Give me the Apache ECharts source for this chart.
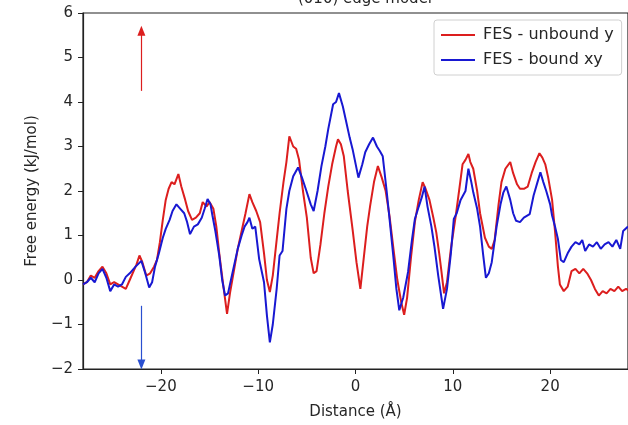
<!DOCTYPE html>
<html>
<head>
<meta charset="utf-8">
<script src="https://cdn.jsdelivr.net/npm/echarts@6/dist/echarts.min.js"></script>
<style>html,body{margin:0;padding:0;background:#fff}#c{width:628px;height:425px}</style>
</head>
<body>
<div id="c"></div>
<script>
// ---- data ----
const titleText = "(010) edge model";
const xName = "Distance (Å)";
const yName = "Free energy (kJ/mol)";
const seriesNames = ["FES - unbound y", "FES - bound xy"];
const xTicks = [-20, -10, 0, 10, 20];

const distanceRed = [-28,-27.6,-27.2,-26.8,-26.4,-26.0,-25.6,-25.2,-24.8,-24.4,-24.0,-23.6,-23.2,-22.8,-22.5,-22.2,-21.9,-21.5,-21.1,-20.7,-20.4,-20.1,-19.8,-19.5,-19.2,-18.9,-18.6,-18.2,-17.9,-17.5,-17.2,-16.8,-16.4,-16.0,-15.7,-15.3,-15.0,-14.6,-14.3,-14.0,-13.6,-13.2,-12.9,-12.5,-12.1,-11.7,-11.3,-10.9,-10.6,-10.2,-9.8,-9.4,-9.1,-8.8,-8.5,-8.1,-7.8,-7.4,-7.1,-6.8,-6.4,-6.1,-5.8,-5.4,-5.0,-4.6,-4.3,-4.0,-3.6,-3.2,-2.8,-2.4,-2.0,-1.8,-1.5,-1.2,-0.8,-0.3,0.1,0.5,0.9,1.2,1.5,1.9,2.3,2.7,3.1,3.5,3.9,4.3,4.7,5.0,5.3,5.7,6.1,6.5,6.9,7.2,7.6,8.0,8.3,8.6,8.8,9.1,9.4,9.8,10.3,10.7,11.0,11.3,11.6,11.8,12.1,12.5,12.8,13.3,13.7,14.0,14.3,14.7,15.0,15.4,15.9,16.2,16.6,16.9,17.3,17.7,18.1,18.5,18.9,19.2,19.5,19.8,20.2,20.5,20.8,21.0,21.4,21.8,22.2,22.6,23.0,23.4,23.8,24.2,24.6,25.0,25.4,25.8,26.2,26.6,27.0,27.4,27.8,28.2];
const fesUnbound = [-0.1,-0.05,0.1,0.05,0.2,0.3,0.15,-0.1,-0.05,-0.1,-0.15,-0.2,0.0,0.2,0.35,0.55,0.4,0.1,0.15,0.3,0.45,0.85,1.35,1.8,2.05,2.2,2.15,2.38,2.1,1.8,1.55,1.35,1.4,1.5,1.75,1.65,1.75,1.6,1.2,0.6,-0.1,-0.76,-0.3,0.2,0.7,1.1,1.5,1.93,1.75,1.55,1.3,0.6,0.0,-0.27,0.1,0.9,1.5,2.2,2.65,3.23,3.0,2.95,2.7,2.0,1.4,0.5,0.15,0.2,0.8,1.5,2.1,2.6,3.0,3.16,3.05,2.78,2.0,1.14,0.4,-0.2,0.6,1.2,1.66,2.2,2.56,2.3,2.0,1.43,0.7,0.0,-0.5,-0.78,-0.4,0.5,1.3,1.8,2.2,2.05,1.8,1.4,1.07,0.6,0.25,-0.3,-0.05,0.7,1.44,2.1,2.6,2.7,2.83,2.65,2.5,2.0,1.5,0.95,0.75,0.7,0.9,1.7,2.2,2.5,2.65,2.4,2.15,2.05,2.05,2.1,2.4,2.65,2.85,2.75,2.6,2.3,1.8,1.1,0.3,-0.1,-0.25,-0.15,0.2,0.25,0.15,0.25,0.15,0.0,-0.2,-0.35,-0.25,-0.3,-0.2,-0.25,-0.15,-0.25,-0.2,-0.25];

const distanceBlue = [-28,-27.6,-27.2,-26.8,-26.4,-26.0,-25.6,-25.2,-24.8,-24.4,-24.0,-23.6,-23.2,-22.6,-22.0,-21.6,-21.2,-20.9,-20.6,-20.2,-19.8,-19.5,-19.1,-18.8,-18.4,-18.0,-17.6,-17.3,-17.0,-16.6,-16.2,-15.8,-15.5,-15.2,-14.9,-14.7,-14.4,-14.0,-13.7,-13.4,-13.1,-12.7,-12.1,-11.7,-11.4,-11.1,-10.9,-10.6,-10.3,-9.9,-9.4,-9.1,-8.8,-8.5,-8.1,-7.8,-7.5,-7.1,-6.8,-6.4,-5.9,-5.5,-5.1,-4.6,-4.3,-3.9,-3.5,-3.1,-2.8,-2.3,-2.0,-1.7,-1.3,-1.0,-0.6,-0.3,0.3,0.7,1.0,1.4,1.8,2.2,2.5,2.8,3.2,3.5,3.9,4.2,4.5,4.9,5.4,5.8,6.1,6.5,6.8,7.1,7.4,7.8,8.1,8.5,8.8,9.0,9.4,9.8,10.1,10.4,10.8,11.3,11.6,11.9,12.1,12.5,12.8,13.1,13.4,13.7,14.0,14.5,14.9,15.2,15.5,15.9,16.2,16.5,16.9,17.3,17.9,18.3,18.7,19.0,19.3,19.6,20.0,20.2,20.5,20.8,21.1,21.4,21.8,22.2,22.6,23.0,23.3,23.6,24.0,24.4,24.8,25.2,25.6,26.0,26.4,26.8,27.2,27.5,28.0];
const fesBound = [-0.1,-0.05,0.05,-0.05,0.15,0.25,0.05,-0.25,-0.1,-0.15,-0.1,0.07,0.15,0.3,0.43,0.15,-0.17,-0.05,0.3,0.6,0.95,1.15,1.35,1.55,1.7,1.6,1.5,1.3,1.03,1.2,1.25,1.4,1.6,1.82,1.7,1.45,1.1,0.55,0.0,-0.35,-0.3,0.1,0.7,1.0,1.2,1.3,1.4,1.15,1.2,0.47,-0.05,-0.8,-1.4,-1.0,-0.2,0.55,0.65,1.6,2.0,2.33,2.53,2.3,2.04,1.7,1.55,2.0,2.56,3.0,3.39,3.95,4.0,4.2,3.9,3.6,3.2,2.94,2.3,2.6,2.87,3.05,3.2,3.0,2.9,2.78,2.0,1.37,0.5,-0.2,-0.68,-0.4,0.18,0.9,1.37,1.65,1.85,2.1,1.65,1.2,0.77,0.1,-0.35,-0.65,-0.2,0.6,1.37,1.5,1.8,2.0,2.5,2.2,1.97,1.6,1.2,0.6,0.05,0.15,0.4,1.2,1.7,1.97,2.1,1.8,1.5,1.33,1.3,1.4,1.48,1.9,2.2,2.42,2.2,2.0,1.7,1.45,1.2,0.92,0.45,0.4,0.6,0.75,0.85,0.8,0.9,0.65,0.8,0.75,0.85,0.7,0.8,0.85,0.75,0.9,0.7,1.1,1.2];

const arrowX = -22;
const redArrowY = [4.25, 5.6];
const blueArrowY = [-0.58, -1.9];

const redColor = '#dc1e1e';
const blueColor = '#1818d2';
const textColor = '#262626';
const fontFam = '"DejaVu Sans", sans-serif';

const zip = (xs, ys) => xs.map((x, i) => [x, ys[i]]);
const fmt = v => String(v).replace('-', '\u2212');

const chart = echarts.init(document.getElementById('c'), null, {renderer: 'canvas'});
chart.setOption({
  animation: false,
  backgroundColor: '#fff',
  title: {
    text: titleText, left: 360, top: -13, textAlign: 'center',
    textStyle: {fontFamily: fontFam, fontSize: 15, fontWeight: 'normal', color: textColor}
  },
  grid: {left: 83, top: 13, right: -9, bottom: 54, show: true, borderColor: '#222', borderWidth: 1.2, backgroundColor: 'transparent'},
  legend: {
    left: 434, top: 20, orient: 'vertical',
    padding: [7, 8, 7, 7], itemGap: 9, itemWidth: 34, itemHeight: 2,
    icon: 'rect',
    borderColor: '#d0d0d0', borderWidth: 1, borderRadius: 3, backgroundColor: '#fff',
    textStyle: {fontFamily: fontFam, fontSize: 16, color: textColor, padding: [0, 0, 0, 3]},
    data: seriesNames
  },
  xAxis: {
    type: 'value', min: -28, max: 28,
    name: xName, nameLocation: 'middle', nameGap: 36,
    nameTextStyle: {fontFamily: fontFam, fontSize: 15, color: textColor},
    axisLine: {show: true, onZero: false, lineStyle: {color: '#222', width: 1.2}},
    axisTick: {show: true, inside: false, length: 5, customValues: xTicks, lineStyle: {color: '#222'}},
    axisLabel: {customValues: xTicks, margin: 11, fontFamily: fontFam, fontSize: 15, color: textColor, formatter: fmt},
    splitLine: {show: false}
  },
  yAxis: {
    type: 'value', min: -2, max: 6, interval: 1,
    name: yName, nameLocation: 'middle', nameGap: 43, nameRotate: 90,
    nameTextStyle: {fontFamily: fontFam, fontSize: 15, color: textColor},
    axisLine: {show: true, onZero: false, lineStyle: {color: '#222', width: 1.2}},
    axisTick: {show: true, inside: false, length: 5, lineStyle: {color: '#222'}},
    axisLabel: {margin: 10, fontFamily: fontFam, fontSize: 15, color: textColor, formatter: fmt},
    splitLine: {show: false}
  },
  series: [
    {
      name: seriesNames[0], type: 'line', data: zip(distanceRed, fesUnbound),
      showSymbol: false, symbol: 'none', color: redColor,
      lineStyle: {width: 2, color: redColor}, z: 2,
      markLine: {
        silent: true, symbol: ['none', 'triangle'], symbolSize: [8, 10],
        label: {show: false},
        lineStyle: {color: redColor, width: 1.2, type: 'solid'},
        data: [[{coord: [arrowX, redArrowY[0]]}, {coord: [arrowX, redArrowY[1]]}]]
      }
    },
    {
      name: seriesNames[1], type: 'line', data: zip(distanceBlue, fesBound),
      showSymbol: false, symbol: 'none', color: blueColor,
      lineStyle: {width: 2, color: blueColor}, z: 3,
      markLine: {
        silent: true, symbol: ['none', 'triangle'], symbolSize: [8, 10],
        label: {show: false},
        lineStyle: {color: '#2a4fd0', width: 1.2, type: 'solid'},
        data: [[{coord: [arrowX, blueArrowY[0]]}, {coord: [arrowX, blueArrowY[1]]}]]
      }
    }
  ]
});
</script>
</body>
</html>
